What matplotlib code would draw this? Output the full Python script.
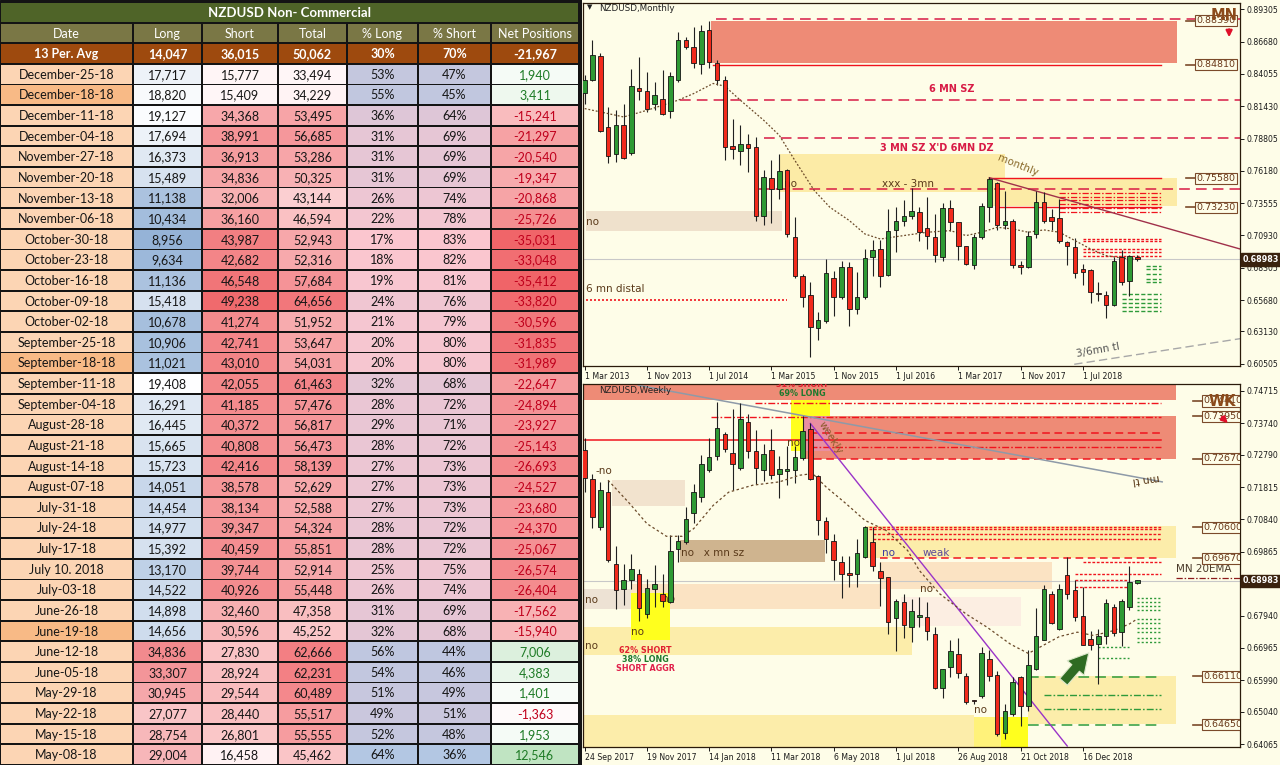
import numpy as np
import matplotlib.pyplot as plt
import matplotlib.transforms as mtransforms
from matplotlib.patches import Rectangle
from matplotlib.colors import LinearSegmentedColormap, Normalize, TwoSlopeNorm

# ---------------- table data (NZDUSD COT, non-commercial) ----------------
columns = ["Date", "Long", "Short", "Total", "% Long", "% Short", "Net Positions"]
avg_row = ["13 Per. Avg", "14,047", "36,015", "50,062", "30%", "70%", "-21,967"]
dates = ["December-25-18", "December-18-18", "December-11-18", "December-04-18",
         "November-27-18", "November-20-18", "November-13-18", "November-06-18",
         "October-30-18", "October-23-18", "October-16-18", "October-09-18",
         "October-02-18", "September-25-18", "September-18-18", "September-11-18",
         "September-04-18", "August-28-18", "August-21-18", "August-14-18",
         "August-07-18", "July-31-18", "July-24-18", "July-17-18", "July 10. 2018",
         "July-03-18", "June-26-18", "June-19-18", "June-12-18", "June-05-18",
         "May-29-18", "May-22-18", "May-15-18", "May-08-18"]
longs = [17717, 18820, 19127, 17694, 16373, 15489, 11138, 10434, 8956, 9634, 11136,
         15418, 10678, 10906, 11021, 19408, 16291, 16445, 15665, 15723, 14051, 14454,
         14977, 15392, 13170, 14522, 14898, 14656, 34836, 33307, 30945, 27077, 28754, 29004]
shorts = [15777, 15409, 34368, 38991, 36913, 34836, 32006, 36160, 43987, 42682, 46548,
          49238, 41274, 42741, 43010, 42055, 41185, 40372, 40808, 42416, 38578, 38134,
          39347, 40459, 39744, 40926, 32460, 30596, 27830, 28924, 29544, 28440, 26801, 16458]
totals = [33494, 34229, 53495, 56685, 53286, 50325, 43144, 46594, 52943, 52316, 57684,
          64656, 51952, 53647, 54031, 61463, 57476, 56817, 56473, 58139, 52629, 52588,
          54324, 55851, 52914, 55448, 47358, 45252, 62666, 62231, 60489, 55517, 55555, 45462]
pct_long = [53, 55, 36, 31, 31, 31, 26, 22, 17, 18, 19, 24, 21, 20, 20, 32, 28, 29, 28,
            27, 27, 27, 28, 28, 25, 26, 31, 32, 56, 54, 51, 49, 52, 64]
pct_short = [47, 45, 64, 69, 69, 69, 74, 78, 83, 82, 81, 76, 79, 80, 80, 68, 72, 71, 72,
             73, 73, 73, 72, 72, 75, 74, 69, 68, 44, 46, 49, 51, 48, 36]
net = [1940, 3411, -15241, -21297, -20540, -19347, -20868, -25726, -35031, -33048, -35412,
       -33820, -30596, -31835, -31989, -22647, -24894, -23927, -25143, -26693, -24527,
       -23680, -24370, -25067, -26574, -26404, -17562, -15940, 7006, 4383, 1401, -1363,
       1953, 12546]
marked_dates = ["December-18-18", "September-18-18", "June-19-18"]

# ---------------- monthly candles (Mar 2013 .. Feb 2019) ----------------
m_open = [0.8252, 0.8360, 0.8551, 0.7975, 0.7757, 0.7988, 0.7763, 0.8295, 0.8268, 0.8159,
          0.8200, 0.8105, 0.8360, 0.8681, 0.8621, 0.8485, 0.8762, 0.8496, 0.8355, 0.7817,
          0.7779, 0.7833, 0.7812, 0.7255, 0.7562, 0.7472, 0.7627, 0.7083, 0.6766, 0.6611,
          0.6339, 0.6399, 0.6747, 0.6589, 0.6833, 0.6494, 0.6589, 0.6915, 0.6983, 0.6774,
          0.7138, 0.7214, 0.7255, 0.7282, 0.7154, 0.7083, 0.6915, 0.7317, 0.7200, 0.7005,
          0.6855, 0.7078, 0.7328, 0.7518, 0.7181, 0.7214, 0.6847, 0.6839, 0.7105, 0.7363,
          0.7241, 0.7236, 0.7037, 0.7002, 0.6820, 0.6812, 0.6621, 0.6611, 0.6529, 0.6915,
          0.6725, 0.6915]
m_high = [0.8396, 0.8681, 0.8578, 0.8138, 0.8110, 0.8159, 0.8442, 0.8545, 0.8423, 0.8341,
          0.8436, 0.8423, 0.8749, 0.8708, 0.8784, 0.8803, 0.8839, 0.8518, 0.8388, 0.8042,
          0.7988, 0.7915, 0.7893, 0.7621, 0.7703, 0.7752, 0.7635, 0.7241, 0.6779, 0.6711,
          0.6467, 0.6901, 0.6806, 0.6888, 0.6874, 0.6793, 0.6983, 0.7056, 0.7056, 0.7308,
          0.7322, 0.7382, 0.7480, 0.7322, 0.7409, 0.7268, 0.7355, 0.7377, 0.7200, 0.7010,
          0.7105, 0.7355, 0.7567, 0.7526, 0.7453, 0.7227, 0.6882, 0.7132, 0.7453, 0.7445,
          0.7308, 0.7390, 0.7051, 0.7073, 0.6861, 0.6820, 0.6711, 0.6638, 0.6915, 0.6975,
          0.6937, 0.6937]
m_low = [0.8165, 0.8350, 0.7934, 0.7684, 0.7689, 0.7716, 0.7744, 0.8192, 0.8097, 0.8110,
         0.8070, 0.8051, 0.8341, 0.8605, 0.8450, 0.8409, 0.8450, 0.8314, 0.7708, 0.7716,
         0.7662, 0.7608, 0.7214, 0.7181, 0.7192, 0.7390, 0.7078, 0.6747, 0.6513, 0.6105,
         0.6241, 0.6385, 0.6439, 0.6575, 0.6358, 0.6453, 0.6575, 0.6766, 0.6676, 0.6766,
         0.6956, 0.7173, 0.7227, 0.7045, 0.6983, 0.6874, 0.6888, 0.7132, 0.6893, 0.6855,
         0.6820, 0.7064, 0.7200, 0.7138, 0.7146, 0.6828, 0.6779, 0.6828, 0.7073, 0.7192,
         0.7138, 0.7029, 0.6855, 0.6747, 0.6692, 0.6548, 0.6562, 0.6426, 0.6521, 0.6692,
         0.6602, 0.6888]
m_close = [0.8360, 0.8559, 0.7942, 0.7735, 0.7988, 0.7725, 0.8306, 0.8268, 0.8124, 0.8233,
           0.8083, 0.8388, 0.8681, 0.8627, 0.8496, 0.8757, 0.8502, 0.8360, 0.7812, 0.7795,
           0.7839, 0.7801, 0.7255, 0.7567, 0.7472, 0.7616, 0.7105, 0.6763, 0.6594, 0.6350,
           0.6404, 0.6785, 0.6589, 0.6833, 0.6494, 0.6594, 0.6910, 0.6975, 0.6766, 0.7132,
           0.7214, 0.7255, 0.7290, 0.7119, 0.7092, 0.6937, 0.7317, 0.7200, 0.7010, 0.6861,
           0.7083, 0.7336, 0.7553, 0.7181, 0.7214, 0.6855, 0.6839, 0.7092, 0.7363, 0.7214,
           0.7214, 0.7045, 0.7010, 0.6785, 0.6793, 0.6630, 0.6616, 0.6529, 0.6888, 0.6711,
           0.6929, 0.6901]
# 20 EMA (bar index, price)
m_ema_x = [0, 2, 5, 8, 12, 14, 16.5, 18, 20, 23, 25, 27, 29.5, 31.5, 34, 36, 38, 40, 44,
           47, 49, 51, 53, 55, 57, 59, 61, 63, 65, 67, 69, 71]
m_ema_y = [0.8124, 0.8097, 0.8056, 0.8110, 0.8192, 0.8246, 0.8328, 0.8306, 0.8192, 0.8029,
           0.7907, 0.7703, 0.7458, 0.7322, 0.7214, 0.7105, 0.7064, 0.7083, 0.7119, 0.7132,
           0.7092, 0.7119, 0.7159, 0.7146, 0.7119, 0.7138, 0.7119, 0.7051, 0.6983, 0.6929,
           0.6910, 0.6898]
m_xlabels = ["1 Mar 2013", "1 Nov 2013", "1 Jul 2014", "1 Mar 2015", "1 Nov 2015",
             "1 Jul 2016", "1 Mar 2017", "1 Nov 2017", "1 Jul 2018"]
m_yticks = [0.89305, 0.86680, 0.84055, 0.81430, 0.78805, 0.76180, 0.73555, 0.70930,
            0.68305, 0.65680, 0.63130, 0.60505]

# ---------------- weekly candles (24 Sep 2017 .. Feb 2019) ----------------
w_open = [0.7294, 0.7207, 0.7061, 0.7166, 0.6950, 0.6875, 0.6902, 0.6920, 0.6799, 0.6875,
          0.6860, 0.6834, 0.6995, 0.7016, 0.7104, 0.7151, 0.7234, 0.7274, 0.7341, 0.7284,
          0.7240, 0.7376, 0.7290, 0.7232, 0.7292, 0.7222, 0.7230, 0.7234, 0.7270, 0.7355,
          0.7214, 0.7078, 0.7019, 0.6955, 0.6920, 0.6920, 0.6972, 0.7016, 0.6928, 0.6910,
          0.6787, 0.6834, 0.6759, 0.6791, 0.6789, 0.6739, 0.6575, 0.6640, 0.6678, 0.6613,
          0.6538, 0.6551, 0.6663, 0.6616, 0.6439, 0.6497, 0.6608, 0.6522, 0.6633, 0.6721,
          0.6860, 0.6754, 0.6915, 0.6870, 0.6794, 0.6724, 0.6708, 0.6734, 0.6819, 0.6744,
          0.6819, 0.6892]
w_high = [0.7328, 0.7222, 0.7197, 0.7202, 0.7005, 0.6950, 0.6980, 0.6935, 0.6905, 0.6948,
          0.6918, 0.7036, 0.7036, 0.7121, 0.7190, 0.7277, 0.7328, 0.7438, 0.7348, 0.7418,
          0.7435, 0.7403, 0.7353, 0.7311, 0.7355, 0.7274, 0.7305, 0.7305, 0.7395, 0.7373,
          0.7217, 0.7091, 0.7041, 0.6975, 0.6975, 0.7026, 0.7063, 0.7061, 0.6955, 0.6910,
          0.6844, 0.6860, 0.6844, 0.6850, 0.6834, 0.6759, 0.6633, 0.6721, 0.6727, 0.6620,
          0.6541, 0.6699, 0.6690, 0.6628, 0.6529, 0.6608, 0.6613, 0.6690, 0.6817, 0.6885,
          0.6868, 0.6888, 0.6972, 0.6900, 0.6880, 0.6749, 0.6754, 0.6844, 0.6829, 0.6844,
          0.6942, 0.6900]
w_low = [0.7166, 0.7058, 0.7053, 0.6955, 0.6814, 0.6827, 0.6875, 0.6779, 0.6787, 0.6819,
         0.6819, 0.6831, 0.6955, 0.7009, 0.7073, 0.7136, 0.7227, 0.7264, 0.7287, 0.7174,
         0.7232, 0.7270, 0.7190, 0.7200, 0.7207, 0.7149, 0.7187, 0.7194, 0.7264, 0.7202,
         0.7036, 0.6982, 0.6900, 0.6847, 0.6880, 0.6880, 0.6968, 0.6928, 0.6824, 0.6739,
         0.6686, 0.6727, 0.6714, 0.6759, 0.6721, 0.6572, 0.6545, 0.6610, 0.6606, 0.6529,
         0.6529, 0.6545, 0.6598, 0.6432, 0.6422, 0.6492, 0.6462, 0.6507, 0.6630, 0.6719,
         0.6769, 0.6751, 0.6844, 0.6777, 0.6704, 0.6690, 0.6588, 0.6708, 0.6734, 0.6701,
         0.6811, 0.6890]
w_close = [0.7210, 0.7091, 0.7172, 0.6962, 0.6871, 0.6902, 0.6935, 0.6816, 0.6878, 0.6890,
           0.6837, 0.6988, 0.7019, 0.7086, 0.7166, 0.7252, 0.7272, 0.7358, 0.7297, 0.7250,
           0.7388, 0.7290, 0.7240, 0.7280, 0.7217, 0.7237, 0.7237, 0.7272, 0.7351, 0.7207,
           0.7083, 0.7026, 0.6962, 0.6920, 0.6917, 0.6982, 0.7061, 0.6945, 0.6908, 0.6774,
           0.6839, 0.6766, 0.6809, 0.6791, 0.6747, 0.6576, 0.6633, 0.6688, 0.6620, 0.6535,
           0.6536, 0.6680, 0.6613, 0.6437, 0.6507, 0.6593, 0.6522, 0.6646, 0.6734, 0.6875,
           0.6771, 0.6875, 0.6860, 0.6791, 0.6706, 0.6704, 0.6734, 0.6831, 0.6741, 0.6837,
           0.6895, 0.6900]
w_ema_x = [3, 5.8, 8, 10.5, 12.5, 14, 16.5, 18.5, 21.6, 25, 27.6, 29.3, 31, 33.6, 36, 38.7,
           41.5, 43, 45.6, 49, 51.7, 54.7, 57, 58.5, 61, 63.3, 65.4, 68, 70, 71]
w_ema_y = [0.7202, 0.7131, 0.7071, 0.7033, 0.7033, 0.7056, 0.7126, 0.7166, 0.7187, 0.7197,
           0.7217, 0.7222, 0.7182, 0.7131, 0.7081, 0.7051, 0.6990, 0.6930, 0.6860, 0.6799,
           0.6759, 0.6708, 0.6680, 0.6699, 0.6731, 0.6744, 0.6734, 0.6749, 0.6769, 0.6784]
w_xlabels = ["24 Sep 2017", "19 Nov 2017", "14 Jan 2018", "11 Mar 2018", "6 May 2018",
             "1 Jul 2018", "26 Aug 2018", "21 Oct 2018", "16 Dec 2018"]
w_yticks = [0.74715, 0.73740, 0.72790, 0.71815, 0.70840, 0.69865, 0.67940, 0.66965,
            0.65990, 0.65040, 0.64065]

last_price = 0.68983

# zones: (bar from, bar to, price low, price high, colour)
m_zones = [(16.2, 76.1, 0.8496, 0.8839, "#EE8B76"),
           (25.1, 54.0, 0.7445, 0.7752, "#FCEBA6"),
           (52.5, 76.1, 0.7336, 0.7562, "#FCEBA6"),
           (0.2, 25.4, 0.7127, 0.7295, "#EFE1CC")]
w_zones = [(-0.3, 76.0, 0.7443, 0.7495, "#EE8B76"),
           (28.0, 76.0, 0.7267, 0.7395, "#EE8B76"),
           (26.5, 31.5, 0.7290, 0.7443, "#FFFF1E"),
           (28.0, 31.5, 0.7290, 0.7395, "#E98FA0"),
           (3.5, 12.9, 0.7123, 0.7202, "#F2E3CE"),
           (12.2, 30.9, 0.6955, 0.7023, "#CFB48F"),
           (-0.3, 5.9, 0.6814, 0.6875, "#EDE2D4"),
           (5.9, 38.0, 0.6814, 0.6888, "#FBE3C3"),
           (38.0, 60.0, 0.6875, 0.6955, "#FBE3C3"),
           (40.6, 56.0, 0.6764, 0.6850, "#FCEEE2"),
           (-0.3, 42.0, 0.6676, 0.6759, "#FCEDAA"),
           (5.9, 10.9, 0.6719, 0.6862, "#FFFF1E"),
           (36.0, 76.0, 0.6968, 0.7063, "#FCEDAA"),
           (-0.3, 50.0, 0.6390, 0.6494, "#FCEDAA"),
           (50.0, 53.5, 0.6390, 0.6487, "#FFF27A"),
           (53.5, 57.0, 0.6390, 0.6487, "#FFFF1E"),
           (57.0, 76.0, 0.6467, 0.6613, "#FCEDAA")]

# horizontal levels: (bar from, bar to, price)
m_long_dash = [(16.9, 84.2, 0.8852), (12.3, 84.2, 0.8192), (23.0, 84.2, 0.7888), (22.4, 84.2, 0.7472)]
m_solid = [(16.5, 74.0, 0.8481), (52.0, 74.0, 0.7558), (53.0, 74.0, 0.7323)]
m_dashdot = [(61.0, 74.0, p) for p in (0.7437, 0.7404, 0.7382, 0.7350, 0.7317, 0.7282)]
m_red_dots = [(64.0, 74.0, p) for p in (0.7064, 0.7045, 0.6983, 0.6956, 0.6929)]
m_green = [(72.1, 74.0, p) for p in (0.6847, 0.6820, 0.6779, 0.6738, 0.6711)] + \
          [(69.1, 74.0, p) for p in (0.6616, 0.6575, 0.6548, 0.6513, 0.6475)]
m_distal = (0.2, 26.0, 0.6567)
m_tags = [0.8839, 0.8481, 0.7558, 0.7323]

w_dashdot = [(21.9, 74.0, 0.7436), (16.2, 74.0, 0.7393), (29.0, 74.0, 0.7302)]
w_dash = [(29.0, 74.0, 0.7345), (29.5, 74.0, 0.7267), (38.0, 74.0, 0.6968)]
w_solid = [(-0.3, 74.0, 0.7323)]
w_red_dots = [(36.5, 74.0, 0.7061), (36.5, 74.0, 0.7056), (37.0, 74.0, 0.7039),
              (37.0, 74.0, 0.7026), (64.0, 74.0, 0.6955), (63.0, 74.0, 0.6920),
              (63.0, 70.0, 0.6902), (63.0, 70.0, 0.6880)]
w_green_dots = [(71.0, 74.0, p) for p in (0.6848, 0.6836, 0.6824, 0.6812, 0.6784, 0.6772,
                                          0.6758, 0.6744, 0.6728, 0.6714)] + \
               [(66.0, 70.0, 0.6698), (66.0, 70.0, 0.6665)]
w_green_dash = [(57.0, 74.0, 0.6610), (57.0, 74.0, 0.6465)]
w_green_dashdot = [(59.0, 74.0, 0.6555), (59.0, 74.0, 0.6514)]
w_tags = [0.7441, 0.7395, 0.7267, 0.7060, 0.6967, 0.6611, 0.6465]

# ---------------- figure ----------------
W, H = 1280, 765
CREAM = "#FEFDE8"
fig = plt.figure(figsize=(12.8, 7.65), dpi=100)
fig.patch.set_facecolor(CREAM)

# ---- table ----
FONT = ["Lato", "DejaVu Sans"]
ax_t = fig.add_axes([0, 0, 582 / W, 1])
ax_t.set_xlim(0, 582)
ax_t.set_ylim(H, 0)
ax_t.axis("off")
ax_t.add_patch(Rectangle((0, 0), 582, H, color="#141414", zorder=0))
col_edges = [0, 133, 202, 278, 347, 418, 491, 579]
top, rh = 2, (H - 2) / 37


def cell(ci, ri, text, fc, tc="#161616", bold=False, x0=None, x1=None, size=9):
    x0 = col_edges[ci] if x0 is None else x0
    x1 = col_edges[ci + 1] if x1 is None else x1
    y0 = top + ri * rh
    ax_t.add_patch(Rectangle((x0 + 1.2, y0 + 0.9), x1 - x0 - 2.4, rh - 1.8, fc=fc, ec="none", zorder=1))
    ax_t.text((x0 + x1) / 2, y0 + rh / 2 + 0.6, text, ha="center", va="center", fontsize=size,
              color=tc, fontweight="bold" if bold else "normal", family=FONT, zorder=2)


cell(0, 0, "NZDUSD Non- Commercial", "#4F6428", "white", True, x0=0, x1=col_edges[-1], size=9.5)
for ci, name in enumerate(columns):
    cell(ci, 1, name, "#7A7745", "white")
for ci, val in enumerate(avg_row):
    cell(ci, 2, val, "#9E4A0E", "white", True)

cm_long = LinearSegmentedColormap.from_list("lg", ["#95B3D7", "#FFFFFF", "#F28A8E"])
cm_red = LinearSegmentedColormap.from_list("rd", ["#FFF6F7", "#F06A6D"])
cm_tot = LinearSegmentedColormap.from_list("tt", ["#FFF6F7", "#F2777B"])
cm_pct = LinearSegmentedColormap.from_list("pc", ["#FBC6CF", "#B3C7E3"])
cm_neg = LinearSegmentedColormap.from_list("ng", ["#FFFFFF", "#F06468"])
cm_pos = LinearSegmentedColormap.from_list("ps", ["#FFFFFF", "#C0E4C2"])
n_long = TwoSlopeNorm(vmin=min(longs), vcenter=19500, vmax=max(longs))
n_short = Normalize(min(shorts), max(shorts))
n_tot = Normalize(min(totals), max(totals))
n_pl = Normalize(min(pct_long), max(pct_long))
n_ps = Normalize(min(pct_short), max(pct_short))

for i, d in enumerate(dates):
    r = i + 3
    cell(0, r, d, "#F8BA86" if d in marked_dates else "#FCD5B4")
    cell(1, r, f"{longs[i]:,}", cm_long(n_long(longs[i])))
    cell(2, r, f"{shorts[i]:,}", cm_red(n_short(shorts[i])))
    cell(3, r, f"{totals[i]:,}", cm_tot(n_tot(totals[i])))
    cell(4, r, f"{pct_long[i]}%", cm_pct(n_pl(pct_long[i])))
    cell(5, r, f"{pct_short[i]}%", cm_pct(1 - n_ps(pct_short[i])))
    v = net[i]
    if v >= 0:
        cell(6, r, f"{v:,}", cm_pos(v / max(net)), "#1E7B26")
    else:
        cell(6, r, f"{v:,}", cm_neg(v / min(net)), "#C0001C")


# ---- charts ----
def make_axes(rect, ylim, yticks, xlabels):
    ax = fig.add_axes(rect)
    ax.set_facecolor(CREAM)
    ax.set_xlim(-0.22, 84.2)
    ax.set_ylim(*ylim)
    ax.yaxis.tick_right()
    ax.set_yticks(yticks)
    ax.set_yticklabels([f"{t:.5f}" for t in yticks])
    ax.set_xticks(np.arange(len(xlabels)) * 8)
    ax.set_xticklabels(xlabels)
    for lab in ax.get_xticklabels():
        lab.set_ha("left")
    ax.tick_params(labelsize=5.6, length=3, width=0.7, colors="#1A1A1A", pad=1.5)
    for s in ax.spines.values():
        s.set_color("#2A1A0A")
        s.set_linewidth(0.9)
    return ax


def candles(ax, o, h, l, c, px):
    o, h, l, c = map(np.asarray, (o, h, l, c))
    x = np.arange(len(o))
    up = c >= o
    ax.vlines(x, l, h, color="#202020", lw=0.8, zorder=3)
    bottom = np.minimum(o, c)
    height = np.maximum(np.abs(c - o), 1.5 * px)
    ax.bar(x[up], height[up], bottom=bottom[up], width=0.58, color="#2E9A34",
           edgecolor="#141414", lw=0.6, zorder=4)
    ax.bar(x[~up], height[~up], bottom=bottom[~up], width=0.58, color="#F22A1C",
           edgecolor="#141414", lw=0.6, zorder=4)


def zones(ax, zs):
    for x0, x1, lo, hi, col in zs:
        ax.add_patch(Rectangle((x0, lo), x1 - x0, hi - lo, fc=col, ec="none", zorder=0.5))


def levels(ax, lv, color, ls, lw=1.0):
    for x0, x1, p in lv:
        ax.plot([x0, x1], [p, p], color=color, ls=ls, lw=lw, zorder=2)


def tags(ax, prices, xbar):
    for p in prices:
        ax.plot([xbar - 1.3, xbar], [p, p], color="#7B4A2A", lw=1.2, zorder=7)
        ax.text(xbar + 0.1, p, f"{p:.5f}", ha="left", va="center", fontsize=6.8, color="#6B3A1A",
                bbox=dict(boxstyle="square,pad=0.12", fc=CREAM, ec="#7B4A2A", lw=0.8),
                zorder=8, clip_on=True)


def price_label(ax):
    ax.axhline(last_price, color="#C8C8C8", lw=0.8, zorder=1)
    tr = mtransforms.blended_transform_factory(ax.transAxes, ax.transData)
    ax.text(1.004, last_price, f"{last_price:.5f}", transform=tr, ha="left", va="center",
            fontsize=5.8, color="white", fontweight="bold", clip_on=False, zorder=10,
            bbox=dict(boxstyle="square,pad=0.22", fc="#3A220E", ec="#3A220E"))


CRIMSON = "#D81B45"
RED = "#F0141E"
GREEN = "#2E9A3A"
LONG_DASH = (0, (7, 4))
DASHDOT = (0, (5, 1.5, 1.2, 1.5))
DOTS = (0, (2, 1.2))
ICON = "#8B4A1A"

# monthly
ax_m = make_axes([583 / W, 1 - 366 / H, 657 / W, 363 / H], (0.6032, 0.8982), m_yticks, m_xlabels)
zones(ax_m, m_zones)
levels(ax_m, m_long_dash, CRIMSON, LONG_DASH, 1.1)
levels(ax_m, m_solid, RED, "-", 1.0)
levels(ax_m, m_dashdot, RED, DASHDOT, 0.9)
levels(ax_m, m_red_dots, RED, DOTS, 1.0)
levels(ax_m, m_green, GREEN, (0, (3, 1.5)), 1.0)
levels(ax_m, [m_distal], RED, (0, (1.2, 1.2)), 1.2)
ax_m.plot([52.0, 84.2], [0.7562, 0.6983], color="#A0304A", lw=1.0, zorder=2)
ax_m.plot([62.9, 84.2], [0.6046, 0.6254], color="#A8A8A8", lw=1.0, ls=(0, (6, 3)), zorder=2)
ax_m.plot(m_ema_x, m_ema_y, color="#6B4A2A", lw=0.9, ls=(0, (1.5, 1.5)), zorder=3.5)
candles(ax_m, m_open, m_high, m_low, m_close, 0.0008)
price_label(ax_m)
tags(ax_m, m_tags, 78.5)

BROWN = "#5A3A1A"
ax_m.text(0.3, 0.8975, "▼", fontsize=5, color="#222", va="top")
ax_m.text(1.8, 0.8975, "NZDUSD,Monthly", fontsize=6.3, color="#222", va="top")
ax_m.text(44.3, 0.8281, "6 MN SZ", fontsize=7, color=CRIMSON, fontweight="bold", va="center")
ax_m.text(38.0, 0.7800, "3 MN SZ X'D 6MN DZ", fontsize=7, color=CRIMSON, fontweight="bold", va="center")
ax_m.text(38.2, 0.7513, "xxx - 3mn", fontsize=7.5, color=BROWN, va="center")
ax_m.text(25.6, 0.7513, "no", fontsize=7.5, color=BROWN, va="center", zorder=2.5)
ax_m.text(0.2, 0.7205, "no", fontsize=7.5, color=BROWN, va="center")
ax_m.text(0.2, 0.6660, "6 mn distal", fontsize=7.5, color=BROWN, va="center")
ax_m.text(52.8, 0.7560, "monthly", fontsize=7.5, color="#8A6A2A", rotation=-22, va="bottom")
ax_m.text(63.0, 0.6085, "3/6mn tl", fontsize=7.5, color="#555555", rotation=10, va="bottom")
ax_m.text(82.2, 0.8884, "MN", fontsize=10.5, color=ICON, fontweight="bold", ha="center",
          va="center", zorder=9)
ax_m.annotate("", xy=(82.8, 0.8681), xytext=(82.8, 0.8790),
              arrowprops=dict(arrowstyle="-|>", color="#E0102A", lw=1.6, mutation_scale=9), zorder=9)

# weekly
ax_w = make_axes([583 / W, 1 - 747 / H, 657 / W, 363 / H], (0.6398, 0.7492), w_yticks, w_xlabels)
zones(ax_w, w_zones)
levels(ax_w, w_dashdot, RED, DASHDOT, 1.0)
levels(ax_w, w_dash, RED, (0, (5, 3)), 1.1)
levels(ax_w, w_solid, RED, "-", 1.1)
levels(ax_w, w_red_dots, RED, DOTS, 1.0)
levels(ax_w, w_green_dots, GREEN, (0, (1.5, 1.5)), 1.0)
levels(ax_w, w_green_dash, GREEN, LONG_DASH, 1.1)
levels(ax_w, w_green_dashdot, GREEN, DASHDOT, 1.0)
ax_w.plot([6.9, 74.2], [0.7488, 0.7197], color="#8E9AA8", lw=1.1, zorder=2)
ax_w.plot([29.0, 62.0], [0.7373, 0.6401], color="#9A34C8", lw=1.0, zorder=2)
ax_w.plot([76.0, 84.2], [0.6908, 0.6908], color="#8B1A1A", lw=0.9, ls=DASHDOT, zorder=2)
ax_w.plot(w_ema_x, w_ema_y, color="#6B4A2A", lw=0.9, ls=(0, (2, 2)), zorder=3.5)
candles(ax_w, w_open, w_high, w_low, w_close, 0.0003)
price_label(ax_w)
tags(ax_w, w_tags, 79.4)

ax_w.text(1.8, 0.7485, "NZDUSD,Weekly", fontsize=6.3, color="#222", va="top", zorder=6)
ax_w.text(28.0, 0.7489, "31% SHORT", fontsize=5.8, color="#E02030", fontweight="bold",
          ha="center", va="center", clip_on=True)
ax_w.text(28.0, 0.7464, "69% LONG", fontsize=5.8, color="#1F7A2E", fontweight="bold",
          ha="center", va="center")
ax_w.text(7.8, 0.6688, "62% SHORT", fontsize=5.8, color="#E02030", fontweight="bold", ha="center", va="center")
ax_w.text(7.8, 0.6661, "38% LONG", fontsize=5.8, color="#1F7A2E", fontweight="bold", ha="center", va="center")
ax_w.text(7.8, 0.6635, "SHORT AGGR", fontsize=5.8, color="#E0204A", fontweight="bold", ha="center", va="center")
ax_w.text(29.8, 0.7330, "weekly", fontsize=7.5, color="#8A5A2A", rotation=-58, va="center")
ax_w.text(1.4, 0.7230, "-no", fontsize=7.5, color=BROWN, va="center")
ax_w.text(12.4, 0.6982, "no   x mn sz", fontsize=7.5, color=BROWN, va="center")
ax_w.text(0.0, 0.6842, "no", fontsize=7.5, color=BROWN, va="center")
ax_w.text(0.0, 0.6703, "no", fontsize=7.5, color=BROWN, va="center")
ax_w.text(6.0, 0.6745, "no", fontsize=7.5, color=BROWN, va="center")
ax_w.text(9.9, 0.6843, "no", fontsize=7.5, color=BROWN, va="center")
ax_w.text(26.0, 0.7313, "no", fontsize=7.5, color=BROWN, va="center", zorder=2.5)
ax_w.text(38.2, 0.6982, "no", fontsize=7.5, color="#3A3AA0", va="center")
ax_w.text(43.4, 0.6982, "weak", fontsize=7.5, color="#5A4A9A", va="center")
ax_w.text(43.1, 0.6875, "no", fontsize=7.5, color=BROWN, va="center")
ax_w.text(50.0, 0.6509, "no", fontsize=7.5, color=BROWN, va="center")
ax_w.text(70.3, 0.7205, "mn tl", fontsize=7.5, color=BROWN, rotation=188, va="center")
ax_w.text(76.0, 0.6935, "MN 20EMA", fontsize=7.5, color="#4A3A2A", va="center")
ax_w.text(81.9, 0.7440, "WK", fontsize=10.5, color=ICON, fontweight="bold", ha="center",
          va="center", zorder=9)
ax_w.annotate("", xy=(82.9, 0.7368), xytext=(81.6, 0.7398),
              arrowprops=dict(arrowstyle="-|>", color="#E0102A", lw=1.6, mutation_scale=9), zorder=9)
ax_w.annotate("", xy=(65.0, 0.6688), xytext=(61.3, 0.6588),
              arrowprops=dict(arrowstyle="simple,head_length=0.9,head_width=1.0,tail_width=0.45",
                              fc="#2E6B22", ec="#DDE8CC", lw=0.8, mutation_scale=16), zorder=9)

fig.savefig("out.png", dpi=100, facecolor=fig.get_facecolor())
